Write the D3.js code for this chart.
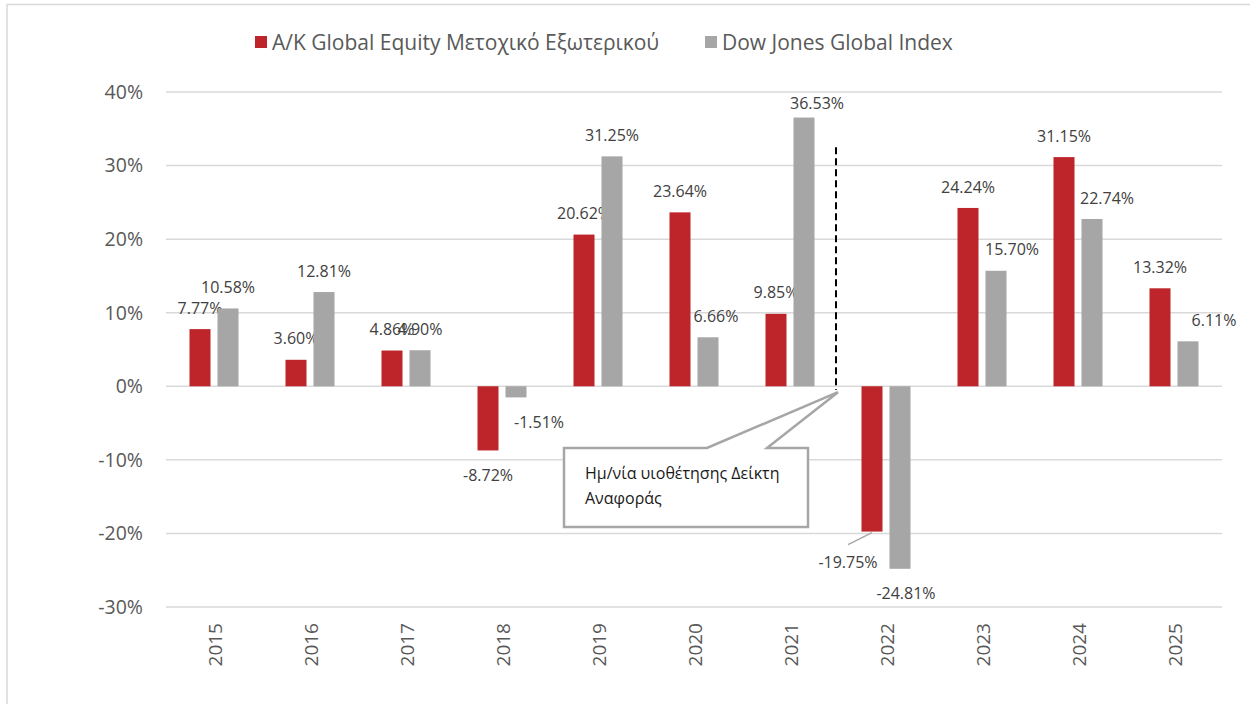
<!DOCTYPE html>
<html>
<head>
<meta charset="utf-8">
<script src="https://cdn.jsdelivr.net/npm/d3@7"></script>
<style>
  html, body { margin: 0; padding: 0; background: #fff; }
  svg { display: block; font-family: "Open Sans", "DejaVu Sans", sans-serif; }
</style>
</head>
<body>
<div id="chart"></div>
<script>
const years = ["2015", "2016", "2017", "2018", "2019", "2020", "2021", "2022", "2023", "2024", "2025"];
const fundValues = [7.77, 3.60, 4.86, -8.72, 20.62, 23.64, 9.85, -19.75, 24.24, 31.15, 13.32];
const indexValues = [10.58, 12.81, 4.90, -1.51, 31.25, 6.66, 36.53, -24.81, 15.70, 22.74, 6.11];
const yTicks = [-30, -20, -10, 0, 10, 20, 30, 40];
const seriesNames = ["A/K Global Equity Μετοχικό Εξωτερικού", "Dow Jones Global Index"];
const calloutLines = ["Ημ/νία υιοθέτησης Δείκτη", "Αναφοράς"];

// χειροκίνητες μετατοπίσεις ετικετών (όπως στο πρωτότυπο)
const fundNudge = { "2022": [-24, 6] };
const indexNudge = { "2018": [23, 0], "2020": [8, 0], "2021": [13, 7], "2022": [6, 0],
                     "2023": [16, 0], "2024": [15, 0], "2025": [26, 0] };

const W = 1250, H = 704;
const colors = { fund: "#BE252A", index: "#A6A6A6" };

const svg = d3.select("#chart").append("svg")
  .attr("width", W).attr("height", H);

// πλαίσιο
svg.append("path")
  .attr("d", `M7,${H} L7,4.5 L${W},4.5`)
  .attr("fill", "none").attr("stroke", "#d9d9d9").attr("stroke-width", 1.5);

const x = d3.scaleBand().domain(years).range([166, 1222]).padding(0);
const xs = d3.scaleBand().domain(["fund", "index"]).range([-24.5, 24.5]).paddingInner(0.25);
const y = d3.scaleLinear().domain([-30, 40]).range([607, 92]);

// πλέγμα
svg.append("g").selectAll("line").data(yTicks).join("line")
  .attr("x1", 166).attr("x2", 1222)
  .attr("y1", d => y(d)).attr("y2", d => y(d))
  .attr("stroke", "#d9d9d9").attr("stroke-width", 1.5);

// άξονας Y
svg.append("g").selectAll("text").data(yTicks).join("text")
  .attr("x", 143).attr("y", d => y(d))
  .attr("dy", "0.35em")
  .attr("text-anchor", "end")
  .attr("fill", "#595959")
  .style("font-size", "19.5px")
  .text(d => d + "%");

// ετικέτες ετών
svg.append("g").selectAll("text").data(years).join("text")
  .attr("transform", d => `translate(${x(d) + x.bandwidth() / 2 + 1},623) rotate(-90)`)
  .attr("dy", "0.35em")
  .attr("text-anchor", "end")
  .attr("fill", "#595959")
  .style("font-size", "19px")
  .text(d => d);

const rows = years.map((yr, i) => ({ year: yr, fund: fundValues[i], index: indexValues[i] }));

["fund", "index"].forEach(key => {
  const nudge = key === "fund" ? fundNudge : indexNudge;
  const g = svg.append("g");

  g.selectAll("rect").data(rows).join("rect")
    .attr("x", d => x(d.year) + x.bandwidth() / 2 + xs(key))
    .attr("width", xs.bandwidth())
    .attr("y", d => y(Math.max(0, d[key])))
    .attr("height", d => Math.abs(y(d[key]) - y(0)))
    .attr("fill", colors[key]);

  g.selectAll("text").data(rows).join("text")
    .attr("x", d => x(d.year) + x.bandwidth() / 2 + xs(key) + xs.bandwidth() / 2 + (nudge[d.year] ? nudge[d.year][0] : 0))
    .attr("y", d => (d[key] >= 0 ? y(d[key]) - 21 : y(d[key]) + 25) + (nudge[d.year] ? nudge[d.year][1] : 0))
    .attr("dy", "0.35em")
    .attr("text-anchor", "middle")
    .attr("fill", "#404040")
    .style("font-size", "16px")
    .text(d => d[key].toFixed(2) + "%");
});

// γραμμή οδηγός για -19.75%
{
  const i = years.indexOf("2022");
  const bx = x("2022") + x.bandwidth() / 2 + xs("fund") + xs.bandwidth() / 2;
  svg.append("line")
    .attr("x1", bx).attr("y1", y(fundValues[i]) + 1)
    .attr("x2", bx - 24).attr("y2", y(fundValues[i]) + 13)
    .attr("stroke", "#a6a6a6").attr("stroke-width", 1.5);
}

// κατακόρυφη διακεκομμένη γραμμή
const xLine = x("2022") - 2;
svg.append("line")
  .attr("x1", xLine).attr("x2", xLine)
  .attr("y1", y(32.5)).attr("y2", y(-0.5))
  .attr("stroke", "#000").attr("stroke-width", 2)
  .attr("stroke-dasharray", "7,4");

// πλαίσιο σχολίου
const tipX = xLine + 2, tipY = y(-0.8);
const bx0 = 564, bx1 = 808, by0 = 448, by1 = 527;
svg.append("path")
  .attr("d", `M${bx0},${by0} L707,${by0} L${tipX},${tipY} L767,${by0} L${bx1},${by0} L${bx1},${by1} L${bx0},${by1} Z`)
  .attr("fill", "#fff").attr("stroke", "#a6a6a6").attr("stroke-width", 2.5);

svg.append("g").selectAll("text").data(calloutLines).join("text")
  .attr("x", 585).attr("y", (d, i) => 479 + i * 25)
  .attr("fill", "#1a1a1a")
  .style("font-size", "16px")
  .text(d => d);

// υπόμνημα
const legend = svg.append("g");
const legendX = [255, 705];
seriesNames.forEach((name, i) => {
  legend.append("rect")
    .attr("x", legendX[i]).attr("y", 36).attr("width", 12).attr("height", 12)
    .attr("fill", i === 0 ? colors.fund : colors.index);
  legend.append("text")
    .attr("x", legendX[i] + 17).attr("y", 50)
    .attr("fill", "#595959")
    .style("font-size", "21px")
    .text(name);
});
</script>
</body>
</html>
